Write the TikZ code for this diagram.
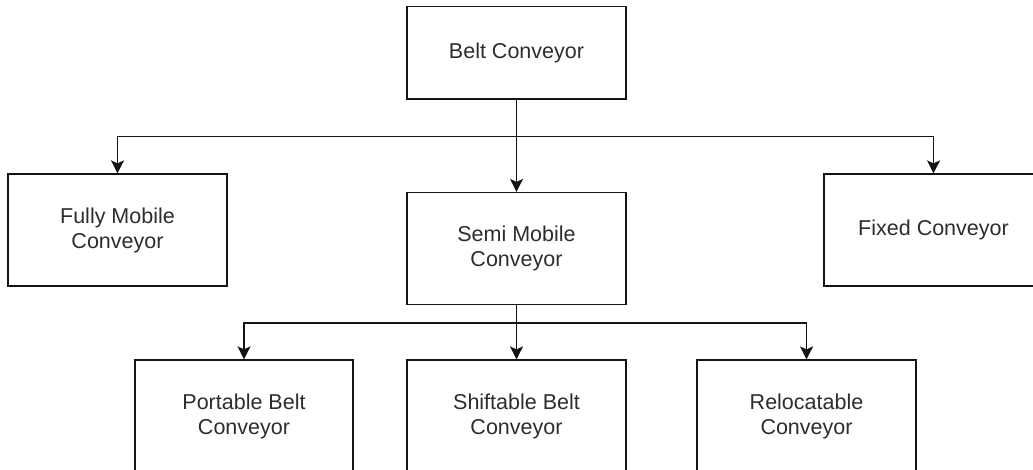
\documentclass[tikz,border=0pt]{standalone}
\usepackage{fontspec}
\setmainfont{Liberation Sans}
\usetikzlibrary{arrows.meta}
\definecolor{inkline}{RGB}{20,20,20}
\definecolor{inktext}{RGB}{45,45,45}
\tikzset{
  box/.style={draw=inkline, line width=1.6pt, fill=white, rectangle,
    minimum width=218.5pt, inner sep=0pt, align=center, text=inktext,
    font=\fontsize{21.5}{25}\selectfont},
  tallbox/.style={box, minimum height=111.6pt},
  link/.style={draw=inkline, line width=1.6pt,
    -{Stealth[length=13pt, width=13pt, inset=3pt]}},
}
\begin{document}
\begin{tikzpicture}[x=1pt, y=-1pt]
  \clip (0,0) rectangle (1033,470);
  \fill[white] (0,0) rectangle (1033,470);

  % top level
  \node[box, minimum height=92.6pt] (belt) at (516.5,53) {Belt Conveyor};

  % second level
  \node[tallbox] (fully) at (117.5,230) {Fully Mobile\\Conveyor};
  \node[tallbox] (semi)  at (516.5,248.5) {Semi Mobile\\Conveyor};
  \node[tallbox] (fixed) at (933.5,230) {Fixed Conveyor};

  % third level
  \node[tallbox] (portable)    at (244,416) {Portable Belt\\Conveyor};
  \node[tallbox] (shiftable)   at (516.5,416) {Shiftable Belt\\Conveyor};
  \node[tallbox] (relocatable) at (806.5,416) {Relocatable\\Conveyor};

  % branch points
  \coordinate (j1) at (516.5,136.7);
  \coordinate (j2) at (516.5,322.7);

  % connectors
  \draw[link] (belt.south) -- (semi.north);
  \draw[link] (belt.south) -- (j1) -| (fully.north);
  \draw[link] (belt.south) -- (j1) -| (fixed.north);

  \draw[link] (semi.south) -- (shiftable.north);
  \draw[link] (semi.south) -- (j2) -| (portable.north);
  \draw[link] (semi.south) -- (j2) -| (relocatable.north);
\end{tikzpicture}
\end{document}
